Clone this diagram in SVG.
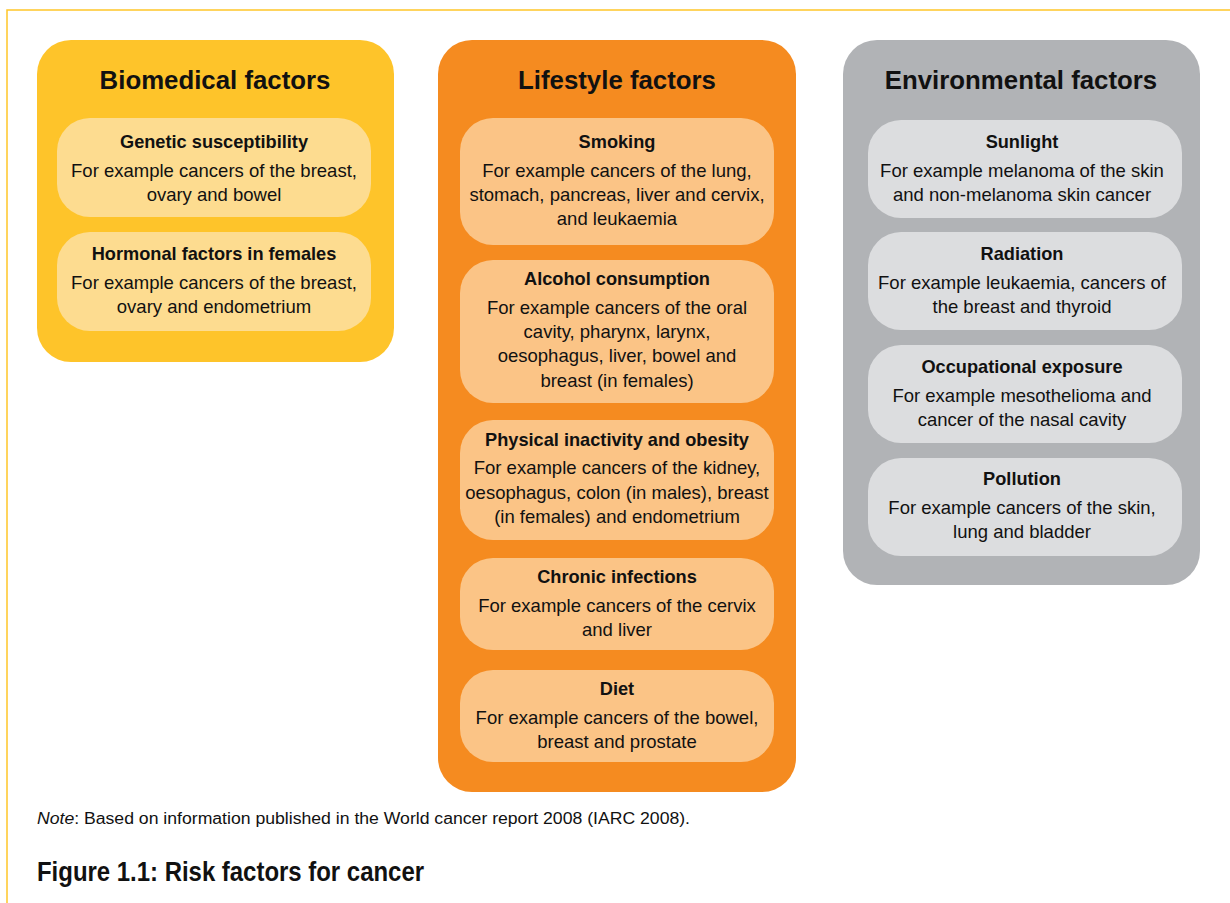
<svg xmlns="http://www.w3.org/2000/svg" width="1230" height="903" viewBox="0 0 1230 903">
<style>
text{font-family:"Liberation Sans",Arial,sans-serif;fill:#111;text-anchor:middle}
.t{font-size:25.8px;font-weight:bold}
.h{font-size:18.2px;font-weight:bold}
.b{font-size:18.5px}
.yo{fill:#FEC42A}.yi{fill:#FDDC90}
.oo{fill:#F58B20}.oi{fill:#FBC486}
.go{fill:#B1B3B6}.gi{fill:#DCDDDF}
</style>
<rect width="1230" height="903" fill="#fff"/>
<path d="M7 903 V10 H1230" fill="none" stroke="#FFC629" stroke-width="1.5"/>
<g id="biomedical">
<rect class="yo" x="37" y="40" width="357" height="322" rx="34"/>
<text class="t" x="215" y="89">Biomedical factors</text>
</g>
<g id="genetic">
<rect class="yi" x="57" y="118" width="314" height="99" rx="33"/>
<text class="h" x="214" y="148">Genetic susceptibility</text>
<text class="b" x="214" y="177">For example cancers of the breast,</text>
<text class="b" x="214" y="201">ovary and bowel</text>
</g>
<g id="hormonal">
<rect class="yi" x="57" y="232" width="314" height="99" rx="33"/>
<text class="h" x="214" y="260">Hormonal factors in females</text>
<text class="b" x="214" y="289">For example cancers of the breast,</text>
<text class="b" x="214" y="313">ovary and endometrium</text>
</g>
<g id="lifestyle">
<rect class="oo" x="438" y="40" width="358" height="752" rx="34"/>
<text class="t" x="617" y="89">Lifestyle factors</text>
</g>
<g id="smoking">
<rect class="oi" x="460" y="118" width="314" height="127" rx="33"/>
<text class="h" x="617" y="148">Smoking</text>
<text class="b" x="617" y="177">For example cancers of the lung,</text>
<text class="b" x="617" y="201">stomach, pancreas, liver and cervix,</text>
<text class="b" x="617" y="225">and leukaemia</text>
</g>
<g id="alcohol">
<rect class="oi" x="460" y="260" width="314" height="143" rx="33"/>
<text class="h" x="617" y="285">Alcohol consumption</text>
<text class="b" x="617" y="314">For example cancers of the oral</text>
<text class="b" x="617" y="338">cavity, pharynx, larynx,</text>
<text class="b" x="617" y="362">oesophagus, liver, bowel and</text>
<text class="b" x="617" y="387">breast (in females)</text>
</g>
<g id="physical">
<rect class="oi" x="460" y="420" width="314" height="120" rx="33"/>
<text class="h" x="617" y="446">Physical inactivity and obesity</text>
<text class="b" x="617" y="474">For example cancers of the kidney,</text>
<text class="b" x="617" y="499">oesophagus, colon (in males), breast</text>
<text class="b" x="617" y="523">(in females) and endometrium</text>
</g>
<g id="chronic">
<rect class="oi" x="460" y="558" width="314" height="92" rx="33"/>
<text class="h" x="617" y="583">Chronic infections</text>
<text class="b" x="617" y="612">For example cancers of the cervix</text>
<text class="b" x="617" y="636">and liver</text>
</g>
<g id="diet">
<rect class="oi" x="460" y="670" width="314" height="92" rx="33"/>
<text class="h" x="617" y="695">Diet</text>
<text class="b" x="617" y="724">For example cancers of the bowel,</text>
<text class="b" x="617" y="748">breast and prostate</text>
</g>
<g id="environmental">
<rect class="go" x="843" y="40" width="357" height="545" rx="34"/>
<text class="t" x="1021" y="89">Environmental factors</text>
</g>
<g id="sunlight">
<rect class="gi" x="868" y="120" width="314" height="98" rx="33"/>
<text class="h" x="1022" y="148">Sunlight</text>
<text class="b" x="1022" y="177">For example melanoma of the skin</text>
<text class="b" x="1022" y="201">and non-melanoma skin cancer</text>
</g>
<g id="radiation">
<rect class="gi" x="868" y="232" width="314" height="98" rx="33"/>
<text class="h" x="1022" y="260">Radiation</text>
<text class="b" x="1022" y="289">For example leukaemia, cancers of</text>
<text class="b" x="1022" y="313">the breast and thyroid</text>
</g>
<g id="occupational">
<rect class="gi" x="868" y="345" width="314" height="98" rx="33"/>
<text class="h" x="1022" y="373">Occupational exposure</text>
<text class="b" x="1022" y="402">For example mesothelioma and</text>
<text class="b" x="1022" y="426">cancer of the nasal cavity</text>
</g>
<g id="pollution">
<rect class="gi" x="868" y="458" width="314" height="98" rx="33"/>
<text class="h" x="1022" y="485">Pollution</text>
<text class="b" x="1022" y="514">For example cancers of the skin,</text>
<text class="b" x="1022" y="538">lung and bladder</text>
</g>
<g id="connectors"></g>
<text x="37" y="824" textLength="653" lengthAdjust="spacingAndGlyphs" style="font-size:16px;text-anchor:start"><tspan font-style="italic">Note</tspan>: Based on information published in the World cancer report 2008 (IARC 2008).</text>
<text x="37" y="881" textLength="387" lengthAdjust="spacingAndGlyphs" style="font-size:27px;font-weight:bold;text-anchor:start">Figure 1.1: Risk factors for cancer</text>
</svg>
